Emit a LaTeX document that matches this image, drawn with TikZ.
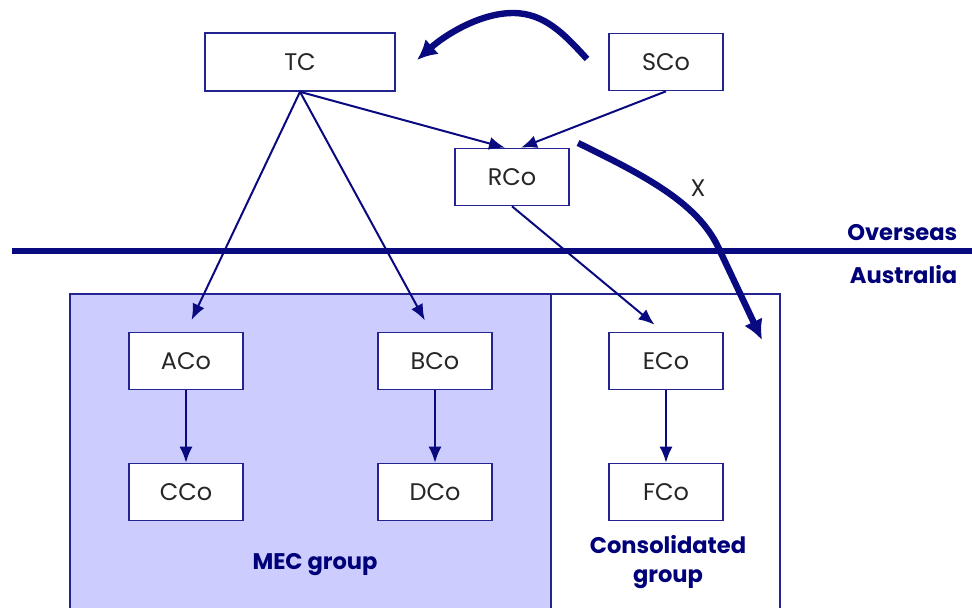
\documentclass[tikz,border=0pt]{standalone}
\usepackage{fontspec}
\setmainfont{Poppins}
\usetikzlibrary{arrows.meta}

\definecolor{navyline}{RGB}{10,10,128}
\definecolor{boxline}{RGB}{35,35,145}
\definecolor{mecfill}{RGB}{204,204,255}
\definecolor{labeltext}{RGB}{0,0,120}

\tikzset{every picture/.style={line width=0.75pt}}
\tikzset{
  cobox/.style={draw=boxline, fill=white, line width=0.8pt, minimum width=57pt, minimum height=28.5pt, inner sep=0pt, font=\fontsize{12}{14}\selectfont, text=black!85},
  ownarrow/.style={draw=navyline, line width=1pt, -{Latex[length=8pt,width=6.5pt]}},
  movearrow/.style={draw=navyline, line width=3.2pt, -{Latex[length=10pt,width=10pt]}},
  grouplabel/.style={text=labeltext, font=\fontsize{11.3}{14}\selectfont\bfseries, align=center, inner sep=0pt}
}

\begin{document}
\begin{tikzpicture}[x=0.5pt,y=0.5pt,yscale=-1]
\useasboundingbox (0,0) rectangle (972,607);

%Shapes: group frames
\fill [mecfill] (70,294) rectangle (551,612);
\draw [boxline, line width=0.8pt] (70,612) -- (70,294) -- (780,294) -- (780,612);
\draw [boxline, line width=0.8pt] (551,294) -- (551,612);

%Straight Lines: border
\coordinate (bleft) at (12,251);
\coordinate (bright) at (972,251);
\draw [navyline, line width=3pt] (bleft) -- (bright);

% Text Node
\node [cobox, minimum width=95pt, minimum height=29pt] (TC) at (300,62) {TC};
\node [cobox] (SCo) at (666,62) {SCo};
\node [cobox] (RCo) at (512,177) {RCo};
\node [cobox] (ACo) at (186,361) {ACo};
\node [cobox] (BCo) at (435,361) {BCo};
\node [cobox] (ECo) at (666,361) {ECo};
\node [cobox] (CCo) at (186,492) {CCo};
\node [cobox] (DCo) at (435,492) {DCo};
\node [cobox] (FCo) at (666,492) {FCo};

% Text Node
\node [grouplabel, anchor=east] (over) at (958,233) {Overseas};
\node [grouplabel, anchor=east] (aus) at (958,275) {Australia};
\node [grouplabel] (mec) at (315,565) {MEC group};
\node [grouplabel, font=\fontsize{11.3}{14.5}\selectfont\bfseries] (cons) at (668,562) {Consolidated\\group};

%Straight Lines: ownership
\draw [ownarrow] (TC.south) -- ([xshift=-3.5pt]RCo.north);
\draw [ownarrow] (SCo.south) -- ([xshift=4.5pt]RCo.north);
\draw [ownarrow, shorten >=6.5pt] (TC.south) -- (ACo.north);
\draw [ownarrow, shorten >=6.5pt] (TC.south) -- ([xshift=-2pt]BCo.north);
\draw [ownarrow, shorten >=5.5pt] (RCo.south) -- ([xshift=-1.5pt]ECo.north);
\draw [ownarrow] (ACo) -- (CCo);
\draw [ownarrow] (BCo) -- (DCo);
\draw [ownarrow] (ECo) -- (FCo);

%Curve Lines: moves
\coordinate (sfrom) at (587,59);
\coordinate (sto) at (417,60);
\draw [movearrow] (sfrom) .. controls (565,35) and (545,13) .. (513,13) .. controls (480,13) and (445,35) .. (sto);
\coordinate (xfrom) at (578,143);
\coordinate (xto) at (762,340);
\draw [movearrow] (xfrom) .. controls (650,178) and (700,205) .. (720,251) -- (xto);
\node [text=black!85, font=\fontsize{12}{14}\selectfont, inner sep=0pt] (xlabel) at (698,188) {X};

\end{tikzpicture}
\end{document}
